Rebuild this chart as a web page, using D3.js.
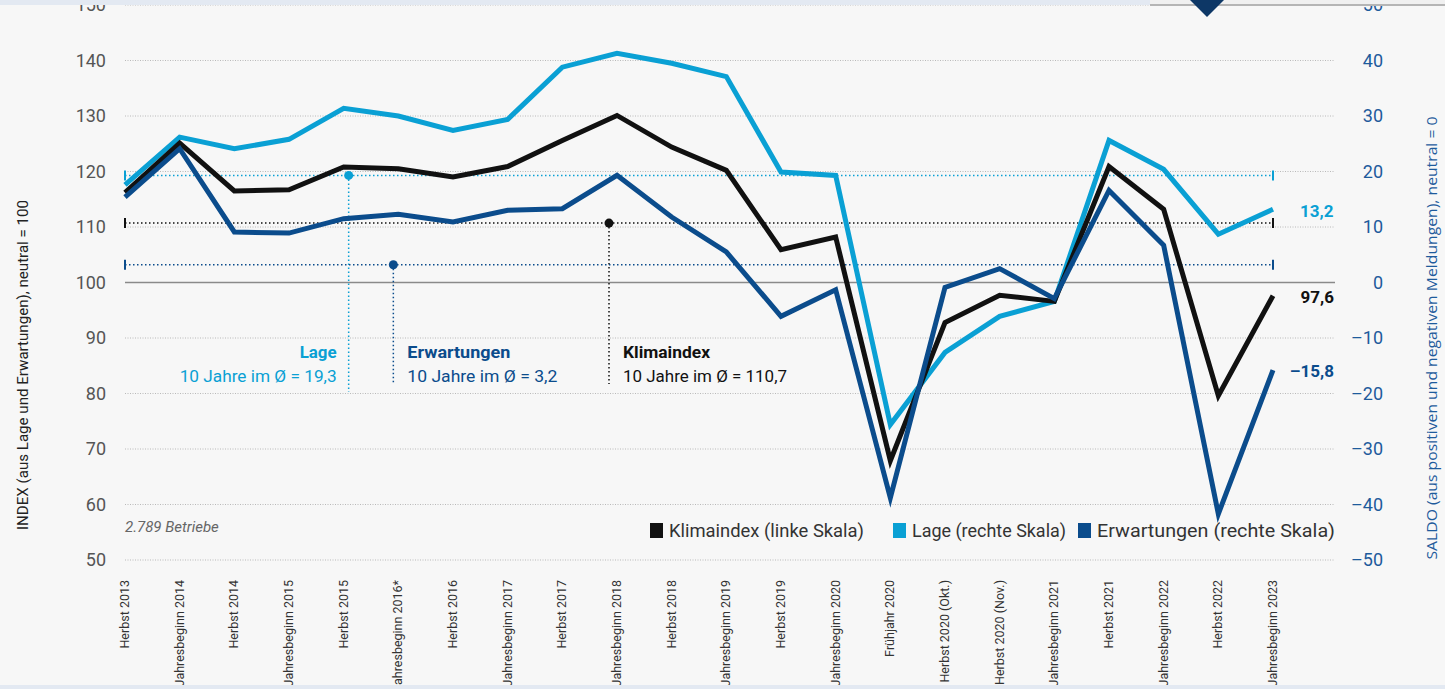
<!DOCTYPE html>
<html>
<head>
  <meta charset="utf-8">
  <title>Klimaindex</title>
  <script src="https://cdn.jsdelivr.net/npm/d3@7"></script>
  <style>
    body { margin: 0; background: #f7f7f7; }
    svg { display: block; }
  </style>
</head>
<body>
<script>
// categories (x axis)
var categories = ["Herbst 2013", "Jahresbeginn 2014", "Herbst 2014", "Jahresbeginn 2015", "Herbst 2015",
  "Jahresbeginn 2016*", "Herbst 2016", "Jahresbeginn 2017", "Herbst 2017", "Jahresbeginn 2018",
  "Herbst 2018", "Jahresbeginn 2019", "Herbst 2019", "Jahresbeginn 2020", "Frühjahr 2020",
  "Herbst 2020 (Okt.)", "Herbst 2020 (Nov.)", "Jahresbeginn 2021", "Herbst 2021", "Jahresbeginn 2022",
  "Herbst 2022", "Jahresbeginn 2023"]

// Klimaindex, left scale
var klimaindex = [116.2, 125.1, 116.5, 116.7, 120.8, 120.5, 119.0, 120.9, 125.6, 130.1,
  124.4, 120.2, 105.9, 108.2, 67.9, 92.8, 97.7, 96.6, 120.9, 113.2, 79.6, 97.6]
// Lage, right scale
var lage = [17.6, 26.2, 24.1, 25.8, 31.4, 30.0, 27.4, 29.4, 38.8, 41.3,
  39.5, 37.1, 19.9, 19.3, -25.6, -12.6, -6.1, -3.4, 25.6, 20.4, 8.7, 13.2]
// Erwartungen, right scale
var erwartungen = [15.4, 24.1, 9.1, 8.9, 11.5, 12.3, 10.9, 13.0, 13.3, 19.3,
  11.8, 5.5, -6.1, -1.3, -38.8, -0.9, 2.5, -2.9, 16.6, 6.7, -41.7, -15.8]

// 10-year averages
var avgKlima = 110.7, avgLage = 19.3, avgErw = 3.2

var leftTicks = [50, 60, 70, 80, 90, 100, 110, 120, 130, 140, 150]
var rightTicks = [-50, -40, -30, -20, -10, 0, 10, 20, 30, 40, 50]

var c = {klima: "#111111", lage: "#0aa0d4", erw: "#0b4c8c", grid: "#b9b9b9", tick: "#555", right: "#1e5b9c"}

var svg = d3.select("body").append("svg").attr("width", 1445).attr("height", 689)
svg.append("rect").attr("width", 1445).attr("height", 689).attr("fill", "#f7f7f7")

var x = d3.scalePoint().domain(d3.range(categories.length)).range([125, 1273])
var yL = d3.scaleLinear().domain([50, 150]).range([560, 5])
var yR = d3.scaleLinear().domain([-50, 50]).range([560, 5])

// grid
svg.selectAll(".grid").data(leftTicks.filter(function(d) { return d != 100 })).enter().append("line")
  .attr("x1", 125).attr("x2", 1335)
  .attr("y1", function(d) { return yL(d) }).attr("y2", function(d) { return yL(d) })
  .attr("stroke", c.grid).attr("stroke-width", 1).attr("stroke-dasharray", "1,1.5")
svg.append("line").attr("x1", 125).attr("x2", 1335).attr("y1", yL(100)).attr("y2", yL(100))
  .attr("stroke", "#8a8a8a").attr("stroke-width", 1.5)

// left axis
var axL = svg.append("g").attr("transform", "translate(106,0)")
  .call(d3.axisLeft(yL).tickValues(leftTicks).tickSize(0).tickPadding(0))
axL.select(".domain").remove()
axL.selectAll("text").attr("font-family", "Roboto, sans-serif").attr("font-size", 18).attr("fill", c.tick)

// right axis
var axR = svg.append("g").attr("transform", "translate(1383,0)")
  .call(d3.axisLeft(yR).tickValues(rightTicks).tickSize(0).tickPadding(0)
    .tickFormat(function(d) { return d < 0 ? "–" + (-d) : d }))
axR.select(".domain").remove()
axR.selectAll("text").attr("font-family", "Roboto, sans-serif").attr("font-size", 18).attr("fill", c.right)

// axis titles
svg.append("text").attr("transform", "translate(28,365) rotate(-90)")
  .attr("font-family", "Roboto, sans-serif")
  .attr("text-anchor", "middle").attr("font-size", 15).attr("fill", "#222")
  .attr("textLength", 330).attr("lengthAdjust", "spacingAndGlyphs")
  .text("INDEX (aus Lage und Erwartungen), neutral = 100")
svg.append("text").attr("transform", "translate(1437,338) rotate(-90)")
  .attr("font-family", "Open Sans, sans-serif")
  .attr("text-anchor", "middle").attr("font-size", 15).attr("fill", c.right)
  .attr("textLength", 443).attr("lengthAdjust", "spacingAndGlyphs")
  .text("SALDO (aus positiven und negativen Meldungen), neutral = 0")

// x labels
svg.selectAll(".xl").data(categories).enter().append("text")
  .attr("font-family", "Roboto, sans-serif")
  .attr("transform", function(d, i) { return "translate(" + (x(i) + 4) + ",580) rotate(-90)" })
  .attr("text-anchor", "end").attr("font-size", 12.5).attr("fill", "#333")
  .text(function(d) { return d })

// average reference lines
var avgs = [
  {y: yR(avgLage), color: c.lage, xi: 4, dx: 5, y2: 392},
  {y: yL(avgKlima), color: c.klima, xi: 9, dx: -8, y2: 384},
  {y: yR(avgErw), color: c.erw, xi: 5, dx: -5, y2: 384}
]
avgs.forEach(function(a) {
  svg.append("line").attr("x1", x(0)).attr("x2", x(21)).attr("y1", a.y).attr("y2", a.y)
    .attr("stroke", a.color).attr("stroke-width", 1.5).attr("stroke-dasharray", "1.5,2.5")
  ;[x(0), x(21)].forEach(function(xx) {
    svg.append("line").attr("x1", xx).attr("x2", xx).attr("y1", a.y - 5).attr("y2", a.y + 5)
      .attr("stroke", a.color).attr("stroke-width", 2)
  })
  svg.append("line").attr("x1", x(a.xi) + a.dx).attr("x2", x(a.xi) + a.dx).attr("y1", a.y).attr("y2", a.y2)
    .attr("stroke", a.color).attr("stroke-width", 1.5).attr("stroke-dasharray", "1.5,2.5")
  svg.append("circle").attr("cx", x(a.xi) + a.dx).attr("cy", a.y).attr("r", 4.5).attr("fill", a.color)
})

// series lines
var lineL = d3.line().x(function(d, i) { return x(i) }).y(function(d) { return yL(d) })
var lineR = d3.line().x(function(d, i) { return x(i) }).y(function(d) { return yR(d) })
svg.append("path").datum(lage).attr("d", lineR).attr("fill", "none").attr("stroke", c.lage).attr("stroke-width", 5)
svg.append("path").datum(klimaindex).attr("d", lineL).attr("fill", "none").attr("stroke", c.klima).attr("stroke-width", 5)
svg.append("path").datum(erwartungen).attr("d", lineR).attr("fill", "none").attr("stroke", c.erw).attr("stroke-width", 5)

// annotations
function note(xx, anchor, color, title, tw, sub, sw) {
  svg.append("text").attr("font-family", "Roboto, sans-serif").attr("x", xx).attr("y", 358).attr("text-anchor", anchor)
    .attr("font-size", 17).attr("font-weight", "bold").attr("fill", color)
    .attr("textLength", tw).attr("lengthAdjust", "spacingAndGlyphs").text(title)
  svg.append("text").attr("font-family", "Roboto, sans-serif").attr("x", xx).attr("y", 382).attr("text-anchor", anchor)
    .attr("font-size", 17).attr("fill", color)
    .attr("textLength", sw).attr("lengthAdjust", "spacingAndGlyphs").text(sub)
}
note(x(4) - 7, "end", c.lage, "Lage", 37, "10 Jahre im Ø  =  19,3", 157)
note(x(5) + 9, "start", c.erw, "Erwartungen", 103, "10 Jahre im Ø  =  3,2", 150)
note(x(9) + 6, "start", c.klima, "Klimaindex", 87, "10 Jahre im Ø  =  110,7", 164)

// end values
svg.append("text").attr("font-family", "Roboto, sans-serif").attr("x", 1300).attr("y", yR(lage[21]) + 8)
  .attr("font-size", 17).attr("font-weight", "bold").attr("fill", c.lage).text("13,2")
svg.append("text").attr("font-family", "Roboto, sans-serif").attr("x", 1334).attr("y", yL(klimaindex[21]) + 7).attr("text-anchor", "end")
  .attr("font-size", 17).attr("font-weight", "bold").attr("fill", c.klima).text("97,6")
svg.append("text").attr("font-family", "Roboto, sans-serif").attr("x", 1334).attr("y", yR(erwartungen[21]) + 7).attr("text-anchor", "end")
  .attr("font-size", 17).attr("font-weight", "bold").attr("fill", c.erw).text("–15,8")

// legend
var legend = [
  {name: "Klimaindex (linke Skala)", color: c.klima, x: 650, w: 195},
  {name: "Lage (rechte Skala)", color: c.lage, x: 893, w: 154},
  {name: "Erwartungen (rechte Skala)", color: c.erw, x: 1078, w: 238}
]
var lg = svg.selectAll(".lg").data(legend).enter().append("g")
  .attr("transform", function(d) { return "translate(" + d.x + ",523)" })
lg.append("rect").attr("width", 13).attr("height", 15).attr("fill", function(d) { return d.color })
lg.append("text").attr("font-family", "Roboto, sans-serif").attr("x", 19).attr("y", 14).attr("font-size", 18).attr("fill", "#333")
  .attr("textLength", function(d) { return d.w }).attr("lengthAdjust", "spacingAndGlyphs")
  .text(function(d) { return d.name })

svg.append("text").attr("font-family", "Roboto, sans-serif").attr("x", 125).attr("y", 532).attr("font-size", 15)
  .attr("font-style", "italic").attr("fill", "#666").text("2.789 Betriebe")

// top and bottom strips
svg.append("rect").attr("x", 0).attr("y", 0).attr("width", 1445).attr("height", 5).attr("fill", "#e3e9f2")
svg.append("rect").attr("x", 1150).attr("y", 0).attr("width", 295).attr("height", 4).attr("fill", "#f0f0f0")
svg.append("line").attr("x1", 1150).attr("x2", 1445).attr("y1", 5).attr("y2", 5).attr("stroke", "#b5b5b5").attr("stroke-width", 2)
svg.append("path").attr("d", "M1190,0 L1224,0 L1207,17 Z").attr("fill", "#0d3766")
svg.append("rect").attr("x", 0).attr("y", 685).attr("width", 1445).attr("height", 4).attr("fill", "#e3e9f2")
</script>
</body>
</html>
